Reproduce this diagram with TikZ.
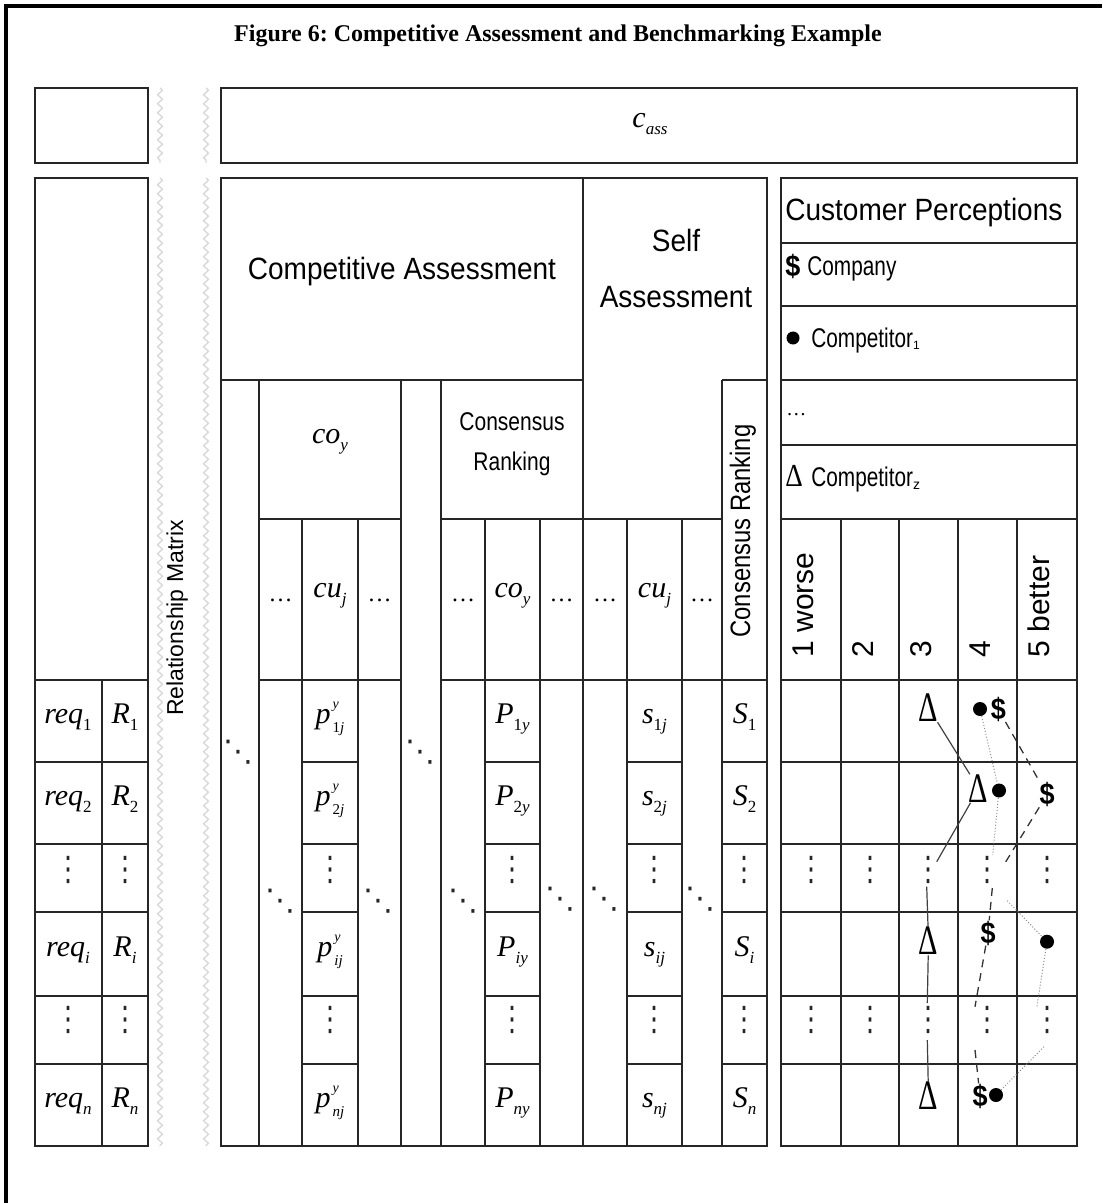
\documentclass[tikz,border=0pt]{standalone}
\usepackage{fontspec}
\setmainfont{Liberation Serif}
\setsansfont{Liberation Sans}
\newfontfamily\djv{DejaVu Sans}
\usepackage{graphicx}
\usetikzlibrary{decorations.pathmorphing}

\newcommand\sbs[1]{\raisebox{-3.5pt}{\fontsize{8.5}{8.5}\selectfont #1}}
\newcommand\pbs[1]{\raisebox{-4.5pt}{\fontsize{7.5}{7.5}\selectfont #1}}
\newcommand\sps[1]{\raisebox{7.5pt}{\fontsize{7}{7}\selectfont #1}}

\begin{document}
\begin{tikzpicture}[x=0.5pt,y=-0.5pt,
  gline/.style={draw=black!85, line width=0.65pt},
  frm/.style={draw=black, line width=1.6pt},
  wav/.style={draw=black!15, line width=0.7pt, decorate, decoration={zigzag, segment length=4.5pt, amplitude=1.2pt}},
  mth/.style={inner sep=0pt, anchor=base, font=\fontsize{15}{18}\selectfont\itshape},
  hdr/.style={inner sep=0pt, anchor=base, font=\sffamily\fontsize{14}{17}\selectfont},
  lgd/.style={inner sep=0pt, anchor=base west, font=\sffamily\fontsize{10.4}{12}\selectfont},
  ell/.style={inner sep=0pt, anchor=base, font=\fontsize{12}{12}\selectfont},
  rtxt/.style={rotate=90, inner sep=0pt, anchor=base west, font=\sffamily\fontsize{15}{15}\selectfont},
  vd/.style={inner sep=0pt, text=black!85, font=\djv\fontsize{13}{13}\selectfont},
  trisym/.style={inner sep=0pt, font=\fontsize{21}{21}\selectfont},
  dotsym/.style={circle, fill=black, inner sep=0pt, minimum size=7pt},
  dolsym/.style={inner sep=0pt, font=\sffamily\bfseries\fontsize{15}{15}\selectfont},
  tl/.style={draw=black!75, line width=0.6pt},
  dl/.style={draw=black!80, line width=0.65pt, dash pattern=on 4pt off 3pt},
  pl/.style={draw=black!45, line width=0.5pt, dash pattern=on 0.5pt off 1pt}
]
\useasboundingbox (0,0) rectangle (1102,1203);

% frame
\draw[frm] (6,1203) -- (6,6) -- (1102,6);

% top boxes
\draw[gline] (35,88) rectangle (148,163);
\draw[gline] (221,88) rectangle (1077,163);

% left block
\draw[gline] (35,178) rectangle (148,1146);
\draw[gline] (35,680) -- (148,680) (102,680) -- (102,1146);
\foreach \y in {762,844,912,996,1064} \draw[gline] (35,\y) -- (148,\y);

% main table
\draw[gline] (221,178) rectangle (767,1146);
\draw[draw=black!85, line width=1.1pt] (767,178) -- (767,1146);
\draw[gline] (583,178) -- (583,1146);
\draw[gline] (221,380) -- (583,380) (722,380) -- (767,380);
\draw[gline] (722,380) -- (722,1146);
\foreach \x in {259,401,441} \draw[gline] (\x,380) -- (\x,1146);
\draw[gline] (259,519) -- (401,519) (441,519) -- (722,519);
\foreach \x in {302,358,485,540,627,682} \draw[gline] (\x,519) -- (\x,1146);
\draw[gline] (259,680) -- (401,680) (441,680) -- (767,680);
\foreach \y in {762,844,912,996,1064}
  \draw[gline] (302,\y) -- (358,\y) (485,\y) -- (540,\y) (627,\y) -- (682,\y) (722,\y) -- (767,\y);

% customer perceptions block
\draw[gline] (781,178) rectangle (1077,1146);
\foreach \y in {243,306,380,445,519,680,762,844,912,996,1064} \draw[gline] (781,\y) -- (1077,\y);
\foreach \x in {841,899,958,1017} \draw[gline] (\x,519) -- (\x,1146);

% wavy strips
\foreach \x in {160,206} {
  \draw[wav] (\x,88) -- (\x,163);
  \draw[wav] (\x,178) -- (\x,1146);
}

% title
\node[inner sep=0pt, anchor=base, font=\bfseries\fontsize{12}{14}\selectfont] (title) at (558,42) {Figure 6:\ Competitive Assessment and Benchmarking Example};

\node[mth] (cass) at (650,128) {c\sbs{ass}};

% headers
\node[hdr] (compa) at (402,280) {\scalebox{1}[1.1]{Competitive Assessment}};
\node[hdr] (self) at (676,252) {\scalebox{1}[1.1]{Self}};
\node[hdr] (selfa) at (676,307) {\scalebox{1}[1.1]{Assessment}};
\node[hdr, anchor=base west] (custp) at (785,221) {\scalebox{1}[1.1]{Customer Perceptions}};

% legend
\node[dolsym, anchor=base west] (lgdol) at (785,277) {\scalebox{0.9}[1]{\$}};
\node[lgd] (lgcomp) at (807,276) {\scalebox{1}[1.3]{Company}};
\node[circle, fill=black, inner sep=0pt, minimum size=6.5pt] (lgdot) at (793,338) {};
\node[lgd] (lgc1) at (811,347) {\scalebox{1}[1.3]{Competitor}\raisebox{-1.5pt}{\fontsize{6}{6}\selectfont 1}};
\node[inner sep=0pt, anchor=base west, font=\fontsize{10}{10}\selectfont] (lgell) at (786,415) {…};
\node[inner sep=0pt, anchor=base west, font=\fontsize{16}{16}\selectfont] (lgtri) at (785,486) {\scalebox{0.85}[1]{Δ}};
\node[lgd] (lgcz) at (811,486) {\scalebox{1}[1.3]{Competitor}\raisebox{-1.5pt}{\fontsize{7}{7}\selectfont z}};

% second header level
\node[mth] (coy) at (330,443) {co\sbs{y}};
\node[inner sep=0pt, anchor=base, font=\sffamily\fontsize{10.5}{12}\selectfont] (cr1) at (512,430) {\scalebox{1}[1.22]{Consensus}};
\node[inner sep=0pt, anchor=base, font=\sffamily\fontsize{10.5}{12}\selectfont] (cr2) at (512,470) {\scalebox{1}[1.22]{Ranking}};
\node[rotate=90, inner sep=0pt, anchor=base, font=\sffamily\fontsize{11.9}{14}\selectfont] (crv) at (750,531) {\scalebox{1}[1.18]{Consensus Ranking}};
\node[rotate=90, inner sep=0pt, anchor=base, font=\sffamily\fontsize{11.5}{13}\selectfont] (relm) at (183,618) {Relationship Matrix};

% third header level
\foreach \x [count=\k] in {280.5,379.5,463,561.5,605,702} \node[ell] (el\k) at (\x,601) {…};
\node[mth] (cuj1) at (330,597) {cu\sbs{j}};
\node[mth] (coy2) at (512.5,597) {co\sbs{y}};
\node[mth] (cuj2) at (654.5,597) {cu\sbs{j}};

\node[rtxt] (rt1) at (813,658) {1 worse};
\node[rtxt] (rt2) at (873,658) {2};
\node[rtxt] (rt3) at (931,658) {3};
\node[rtxt] (rt4) at (990,658) {4};
\node[rtxt] (rt5) at (1049,658) {5 better};

% body cells
\node[mth] (q1) at (68,723) {req\sbs{\upshape 1}};
\node[mth] (q2) at (68,805) {req\sbs{\upshape 2}};
\node[mth] (qi) at (68,956) {req\sbs{i}};
\node[mth] (qn) at (68,1107) {req\sbs{n}};
\node[mth] (R1) at (125,723) {R\sbs{\upshape 1}};
\node[mth] (R2) at (125,805) {R\sbs{\upshape 2}};
\node[mth] (Ri) at (125,956) {R\sbs{i}};
\node[mth] (Rn) at (125,1107) {R\sbs{n}};
\node[mth] (p1) at (330,723) {p\kern1pt\rlap{\sps{y}}\pbs{\upshape 1\itshape j}};
\node[mth] (p2) at (330,805) {p\kern1pt\rlap{\sps{y}}\pbs{\upshape 2\itshape j}};
\node[mth] (pi) at (330,956) {p\kern1pt\rlap{\sps{y}}\pbs{ij}};
\node[mth] (pn) at (330,1107) {p\kern1pt\rlap{\sps{y}}\pbs{nj}};
\node[mth] (P1) at (512.5,723) {P\sbs{\upshape 1\itshape y}};
\node[mth] (P2) at (512.5,805) {P\sbs{\upshape 2\itshape y}};
\node[mth] (Pi) at (512.5,956) {P\sbs{iy}};
\node[mth] (Pn) at (512.5,1107) {P\sbs{ny}};
\node[mth] (s1) at (654.5,723) {s\sbs{\upshape 1\itshape j}};
\node[mth] (s2) at (654.5,805) {s\sbs{\upshape 2\itshape j}};
\node[mth] (si) at (654.5,956) {s\sbs{ij}};
\node[mth] (sn) at (654.5,1107) {s\sbs{nj}};
\node[mth] (S1) at (744.5,723) {S\sbs{\upshape 1}};
\node[mth] (S2) at (744.5,805) {S\sbs{\upshape 2}};
\node[mth] (Si) at (744.5,956) {S\sbs{i}};
\node[mth] (Sn) at (744.5,1107) {S\sbs{n}};

% vertical ellipses
\foreach \x [count=\k] in {68,125,330,512.5,654.5,744.5,811,870,928.5,987.5,1047} {
  \node[vd] (va\k) at (\x,870) {\scalebox{1}[1.3]{⋮}};
  \node[vd] (vb\k) at (\x,1020) {\scalebox{1}[1.3]{⋮}};
}
% diagonal ellipses
\foreach \x/\y [count=\k] in {238.5/752,420/752,280.6/901,378.8/901,463/901,560.7/899,604/899,700.7/899}
  \node[vd] (dd\k) at (\x,\y) {\scalebox{1.15}{⋱}};

% chart symbols
\node[trisym] (t1) at (928.7,708) {\scalebox{0.72}[1]{Δ}};
\node[trisym] (t2) at (978.7,788.5) {\scalebox{0.72}[1]{Δ}};
\node[trisym] (ti) at (928.5,941) {\scalebox{0.72}[1]{Δ}};
\node[trisym] (tn) at (928.5,1095.5) {\scalebox{0.72}[1]{Δ}};
\node[dotsym] (c1) at (980,709) {};
\node[dotsym] (c2) at (999,790.5) {};
\node[dotsym] (ci) at (1047,941.7) {};
\node[dotsym] (cn) at (996,1095) {};
\node[dolsym] (d1) at (998.3,709.3) {\scalebox{0.9}[1]{\$}};
\node[dolsym] (d2) at (1047,794.7) {\scalebox{0.9}[1]{\$}};
\node[dolsym] (di) at (988,933) {\scalebox{0.9}[1]{\$}};
\node[dolsym] (dn) at (980,1096) {\scalebox{0.9}[1]{\$}};

% gap end points
\coordinate (ta) at (936.7,861.7);
\coordinate (tb) at (926.7,886.7);
\coordinate (tc) at (927.3,1003);
\coordinate (td) at (927.3,1040);
\coordinate (da) at (1005,863);
\coordinate (db) at (992.3,888);
\coordinate (dc) at (975,1006.7);
\coordinate (dd) at (975,1050);
\coordinate (ca) at (992.7,855);
\coordinate (cb) at (1007.3,900.7);
\coordinate (cc) at (1036.7,1008);
\coordinate (cd) at (1044,1046.7);

% series lines
\draw[tl] (t1) -- (t2);
\draw[tl] (t2) -- (ta);
\draw[tl] (tb) -- (ti);
\draw[tl] (ti) -- (tc);
\draw[tl] (td) -- (tn);
\draw[dl] (d1) -- (d2);
\draw[dl] (d2) -- (da);
\draw[dl] (db) -- (di);
\draw[dl] (di) -- (dc);
\draw[dl] (dd) -- (dn);
\draw[pl] (c1) -- (c2);
\draw[pl] (c2) -- (ca);
\draw[pl] (cb) -- (ci);
\draw[pl] (ci) -- (cc);
\draw[pl] (cd) -- (cn);
\end{tikzpicture}
\end{document}
